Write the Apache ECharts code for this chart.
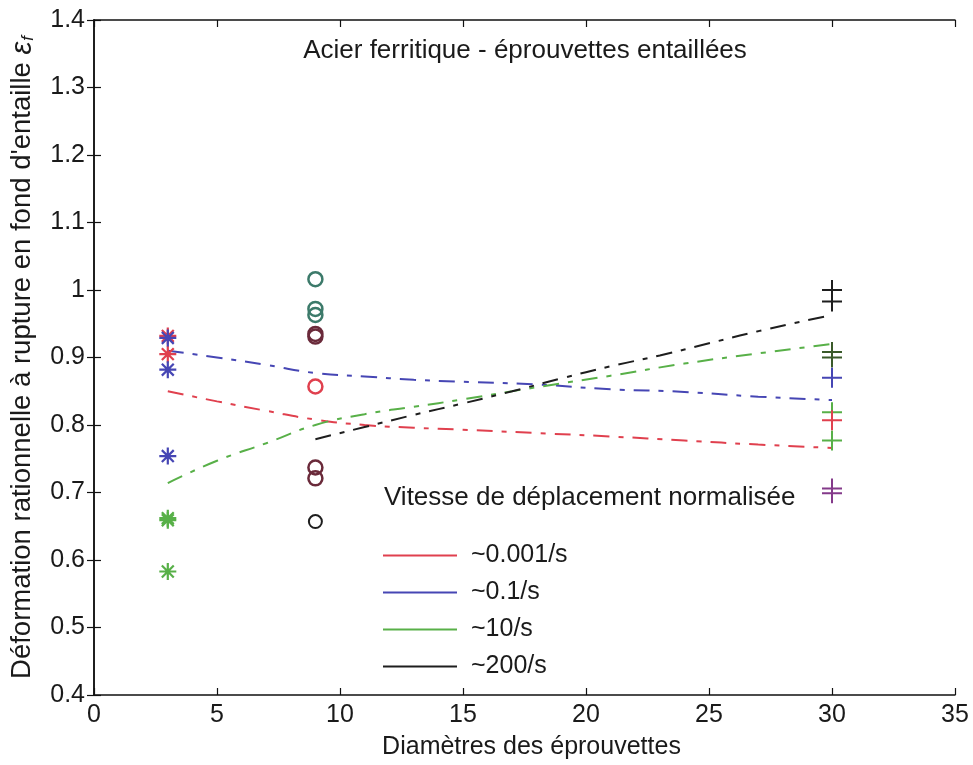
<!DOCTYPE html>
<html>
<head>
<meta charset="utf-8">
<script src="https://cdn.jsdelivr.net/npm/echarts@6/dist/echarts.min.js"></script>
<style>
html,body{margin:0;padding:0;background:#fff;}
#chart{width:973px;height:765px;}
</style>
</head>
<body>
<div id="chart"></div>
<script>
// ---- data ----
const lineNames = ['~0.001/s', '~0.1/s', '~10/s', '~200/s'];
const fitX = [3, 5, 7, 9, 11, 13, 15, 18, 21, 24, 27, 30];
const fitRed = [0.850, 0.835, 0.821, 0.808, 0.800, 0.796, 0.793, 0.788, 0.783, 0.777, 0.771, 0.766];
const fitBlue = [0.910, 0.900, 0.889, 0.877, 0.872, 0.867, 0.864, 0.860, 0.853, 0.849, 0.842, 0.837];
const fitGreen = [0.714, 0.747, 0.773, 0.800, 0.816, 0.827, 0.838, 0.856, 0.873, 0.891, 0.906, 0.920];
const fitBlackX = [9, 11, 13, 15, 17, 19, 21, 23, 25, 27, 30];
const fitBlack = [0.779, 0.797, 0.815, 0.832, 0.850, 0.869, 0.887, 0.903, 0.921, 0.939, 0.963];

// measured points: diameter 3 (stars), 9 (circles), 30 (crosses)
const d3Red = [0.932, 0.905];
const d3Blue = [0.929, 0.882, 0.754];
const d3Green = [0.662, 0.659, 0.583];
const d9Teal = [1.016, 0.972, 0.963];
const d9Maroon = [0.935, 0.931, 0.737, 0.721];
const d9Red = [0.857];
const d9Black = [0.657];
const d30Black = [1.000, 0.983];
const d30DarkGreen = [0.908, 0.900];
const d30Blue = [0.870];
const d30Green = [0.819, 0.777];
const d30Red = [0.807];
const d30Purple = [0.706, 0.699];

const xTicks = [0, 35, 5];
const yTicks = [0.4, 1.4, 0.1];

// ---- styles ----
const FONT = "'Liberation Sans', Arial, sans-serif";
const C = {red:'#e0404e', blue:'#4646b4', green:'#58b048', black:'#1e1e1e',
  teal:'#3c7a6a', maroon:'#6a2a3a', darkGreen:'#3a5a2a', purple:'#843a8a'};
const STAR = 'path://M0,-10 L0,10 M-10,0 L10,0 M-7,-7 L7,7 M-7,7 L7,-7';
const PLUS = 'path://M0,-10 L0,10 M-10,0 L10,0';
const DASH = [16, 9, 5, 9];

function zip(xs, ys){ return xs.map((x,i)=>[x, ys[i]]); }
function pts(x, ys){ return ys.map(y=>[x, y]); }

function fitSeries(name, xs, ys, color){
  return {type:'line', name, data: zip(xs, ys), showSymbol:false, smooth:true,
    lineStyle:{color, width:2, type:DASH}, itemStyle:{color}, z:3};
}
function markSeries(x, ys, color, symbol, size, bw){
  return {type:'scatter', data: pts(x, ys), symbol, symbolSize:size,
    itemStyle:{color: symbol==='circle' ? 'rgba(0,0,0,0)' : color, borderColor:color, borderWidth:bw, opacity:1}, z:4};
}

const fmt = v => String(Math.round(v*10)/10);

const chart = echarts.init(document.getElementById('chart'), null, {renderer:'canvas'});
chart.setOption({
  backgroundColor:'#fff',
  animation:false,
  textStyle:{fontFamily:FONT},
  title:[
    {text:'Acier ferritique - éprouvettes entaillées', left:520, top:33, textAlign:'center',
     textStyle:{fontFamily:FONT, fontSize:26, fontWeight:'normal', color:'#1a1a1a'}},
    {text:'Vitesse de déplacement normalisée', left:379, top:480,
     textStyle:{fontFamily:FONT, fontSize:26, fontWeight:'normal', color:'#1a1a1a'}}
  ],
  legend:{
    data: lineNames, orient:'vertical', left:378, top:538, itemWidth:74, itemHeight:2,
    icon:'rect', itemGap:12, selectedMode:false,
    textStyle:{fontFamily:FONT, fontSize:25, color:'#1a1a1a', padding:[0,0,0,9]}
  },
  grid:{left:92, right:18, top:20, bottom:69, containLabel:false},
  xAxis:[
    {type:'value', min:xTicks[0], max:xTicks[1], interval:xTicks[2],
     name:'Diamètres des éprouvettes', nameLocation:'middle', nameGap:40,
     nameTextStyle:{fontFamily:FONT, fontSize:25, color:'#1a1a1a', padding:[0,0,0,14]},
     axisLine:{show:true, lineStyle:{color:'#111', width:1.5}},
     axisTick:{show:true, inside:true, length:7, lineStyle:{color:'#111', width:1.2}},
     axisLabel:{fontFamily:FONT, fontSize:25, color:'#1a1a1a', margin:8, formatter:fmt},
     splitLine:{show:false}},
    {type:'value', position:'top', min:xTicks[0], max:xTicks[1], interval:xTicks[2],
     axisLine:{show:true, lineStyle:{color:'#111', width:1.5}},
     axisTick:{show:true, inside:true, length:7, lineStyle:{color:'#111', width:1.2}},
     axisLabel:{show:false}, splitLine:{show:false}}
  ],
  yAxis:[
    {type:'value', min:yTicks[0], max:yTicks[1], interval:yTicks[2],
     name:"Déformation rationnelle à rupture en fond d'entaille {e|ε}{f|f}",
     nameLocation:'middle', nameGap:57, nameRotate:90,
     nameTextStyle:{fontFamily:FONT, fontSize:27.5, color:'#1a1a1a',
       rich:{e:{fontFamily:FONT, fontSize:29, fontStyle:'italic', color:'#1a1a1a'},
             f:{fontFamily:FONT, fontSize:17, fontStyle:'italic', color:'#1a1a1a', padding:[12,0,0,1]}}},
     axisLine:{show:true, lineStyle:{color:'#111', width:1.5}},
     axisTick:{show:true, inside:true, length:7, lineStyle:{color:'#111', width:1.2}},
     axisLabel:{fontFamily:FONT, fontSize:25, color:'#1a1a1a', margin:9, formatter:fmt},
     splitLine:{show:false}},
    {type:'value', position:'right', min:yTicks[0], max:yTicks[1], interval:yTicks[2],
     axisLine:{show:true, lineStyle:{color:'#111', width:1.5}},
     axisTick:{show:true, inside:true, length:7, lineStyle:{color:'#111', width:1.2}},
     axisLabel:{show:false}, splitLine:{show:false}}
  ],
  series:[
    fitSeries(lineNames[0], fitX, fitRed, C.red),
    fitSeries(lineNames[1], fitX, fitBlue, C.blue),
    fitSeries(lineNames[2], fitX, fitGreen, C.green),
    fitSeries(lineNames[3], fitBlackX, fitBlack, C.black),
    markSeries(3, d3Red, C.red, STAR, 17, 2.2),
    markSeries(3, d3Blue, C.blue, STAR, 17, 2.2),
    markSeries(3, d3Green, C.green, STAR, 17, 2.2),
    markSeries(9, d9Teal, C.teal, 'circle', 14, 2.5),
    markSeries(9, d9Maroon, C.maroon, 'circle', 14, 2.5),
    markSeries(9, d9Red, C.red, 'circle', 14, 2.5),
    markSeries(9, d9Black, C.black, 'circle', 13, 2),
    markSeries(30, d30Black, C.black, PLUS, 20, 2),
    markSeries(30, d30DarkGreen, C.darkGreen, PLUS, 20, 2),
    markSeries(30, d30Blue, C.blue, PLUS, 20, 2),
    markSeries(30, d30Green, C.green, PLUS, 20, 2),
    markSeries(30, d30Red, C.red, PLUS, 20, 2),
    markSeries(30, d30Purple, C.purple, PLUS, 20, 2)
  ]
});
</script>
</body>
</html>
